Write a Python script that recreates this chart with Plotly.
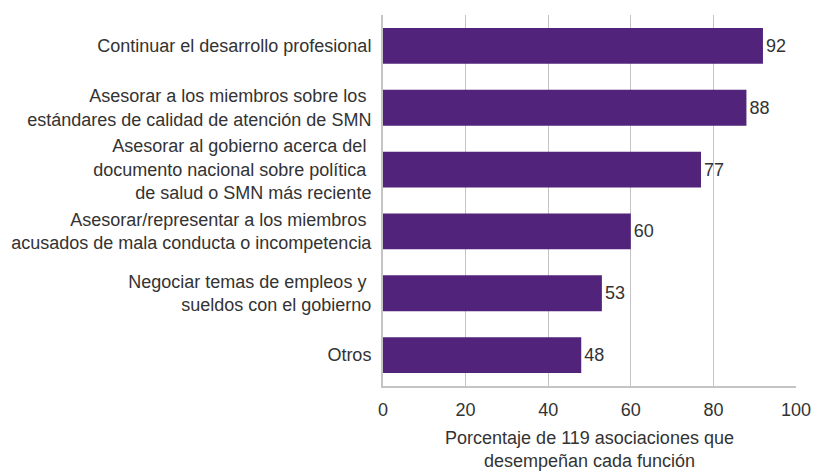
import plotly.graph_objects as go

categories = [
    "Continuar el desarrollo profesional",
    "Asesorar a los miembros sobre los <br>estándares de calidad de atención de SMN",
    "Asesorar al gobierno acerca del <br>documento nacional sobre política <br>de salud o SMN más reciente",
    "Asesorar/representar a los miembros <br>acusados de mala conducta o incompetencia",
    "Negociar temas de empleos y <br>sueldos con el gobierno",
    "Otros",
]
values = [92, 88, 77, 60, 53, 48]
tick_vals = [0, 20, 40, 60, 80, 100]

FONT = "Liberation Sans, Arial, sans-serif"
TXT = "#333333"
FS = 18

fig = go.Figure(go.Bar(
    x=values,
    y=categories,
    orientation="h",
    marker=dict(color="#52237A", line=dict(width=0)),
    width=0.58,
    text=[str(v) for v in values],
    textposition="outside",
    textfont=dict(family=FONT, size=FS, color=TXT),
    cliponaxis=False,
))

fig.update_layout(
    width=814, height=471,
    margin=dict(l=383, r=18, t=15, b=85),
    plot_bgcolor="white", paper_bgcolor="white",
    showlegend=False,
    font=dict(family=FONT, size=FS, color=TXT),
    uniformtext=dict(minsize=FS, mode="show"),
    xaxis=dict(
        range=[0, 100], tickvals=tick_vals,
        showgrid=True, gridcolor="#c4c4c4", gridwidth=1,
        zeroline=False,
        showline=True, linecolor="#c4c4c4", linewidth=2,
        ticks="outside", ticklen=6, tickcolor="white",
        tickfont=dict(size=FS, color=TXT),
        title=dict(text="Porcentaje de 119 asociaciones que<br>desempeñan cada función",
                   font=dict(size=FS, color=TXT), standoff=18),
        automargin=False,
        fixedrange=True,
    ),
    yaxis=dict(
        autorange="reversed",
        showgrid=False, zeroline=False,
        showline=True, linecolor="#c4c4c4", linewidth=2,
        ticks="outside", ticklen=6, tickcolor="white",
        tickfont=dict(size=FS, color=TXT),
        automargin=False,
        fixedrange=True,
    ),
    bargap=0.42,
)

fig.write_html(
    "out.html",
    config={"displayModeBar": False, "staticPlot": True},
    post_script="document.body.style.margin='0px';document.body.style.overflow='hidden';",
)
